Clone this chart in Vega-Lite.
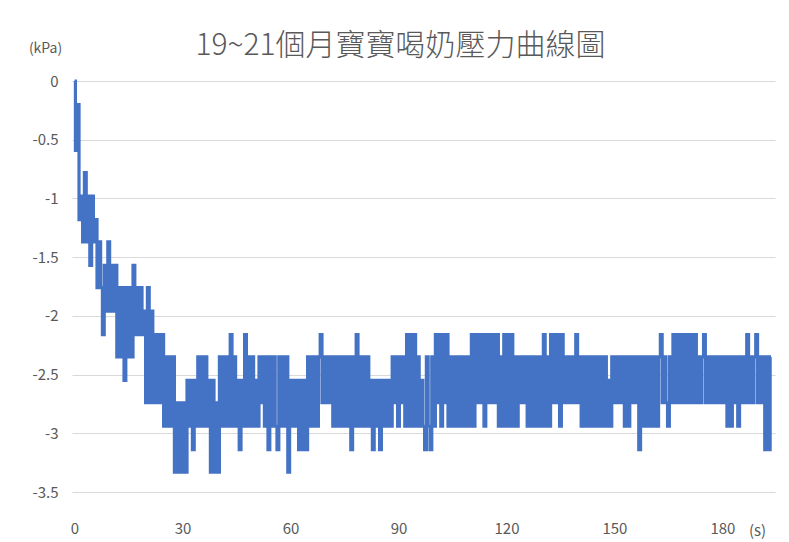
{
  "$schema": "https://vega.github.io/schema/vega-lite/v6.json",
  "width": 703,
  "height": 411,
  "autosize": {"type": "none"},
  "padding": {"left": 72, "top": 81, "right": 14, "bottom": 50},
  "background": "white",
  "title": {
    "text": "19~21個月寶寶喝奶壓力曲線圖",
    "font": "Noto Sans CJK TC",
    "fontSize": 30,
    "fontWeight": 300,
    "color": "#595959",
    "anchor": "middle",
    "dx": -23,
    "offset": -20
  },
  "data": {
    "values": [
      {"t":0,"p":0},{"t":0.5,"p":-0.59},{"t":1,"p":-0.2},{"t":1.5,"p":-1.18},{"t":2,"p":-0.98},{"t":2.5,"p":-1.37},{"t":3,"p":-0.78},{"t":3.5,"p":-1.37},{"t":4,"p":-0.98},{"t":4.5,"p":-1.57},
      {"t":5,"p":-0.98},{"t":5.5,"p":-1.37},{"t":6,"p":-1.18},{"t":6.5,"p":-1.76},{"t":7,"p":-1.37},{"t":7.5,"p":-1.76},{"t":8,"p":-2.16},{"t":8.5,"p":-1.57},{"t":9,"p":-1.96},{"t":9.5,"p":-1.37},
      {"t":10,"p":-1.96},{"t":10.5,"p":-1.57},{"t":11,"p":-1.96},{"t":11.5,"p":-1.57},{"t":12,"p":-2.35},{"t":12.5,"p":-1.76},{"t":13,"p":-2.35},{"t":13.5,"p":-1.76},{"t":14,"p":-2.55},{"t":14.5,"p":-1.76},
      {"t":15,"p":-2.35},{"t":15.5,"p":-1.76},{"t":16,"p":-2.35},{"t":16.5,"p":-1.57},{"t":17,"p":-2.16},{"t":17.5,"p":-1.76},{"t":18,"p":-2.16},{"t":18.5,"p":-1.76},{"t":19,"p":-2.16},{"t":19.5,"p":-1.96},
      {"t":20,"p":-2.74},{"t":20.5,"p":-1.76},{"t":21,"p":-2.74},{"t":21.5,"p":-1.96},{"t":22,"p":-2.74},{"t":22.5,"p":-2.16},{"t":23,"p":-2.74},{"t":23.5,"p":-2.16},{"t":24,"p":-2.74},{"t":24.5,"p":-2.16},
      {"t":25,"p":-2.94},{"t":25.5,"p":-2.35},{"t":26,"p":-2.94},{"t":26.5,"p":-2.35},{"t":27,"p":-2.94},{"t":27.5,"p":-2.35},{"t":28,"p":-3.33},{"t":28.5,"p":-2.74},{"t":29,"p":-3.33},{"t":29.5,"p":-2.74},
      {"t":30,"p":-3.33},{"t":30.5,"p":-2.74},{"t":31,"p":-3.33},{"t":31.5,"p":-2.55},{"t":32,"p":-2.94},{"t":32.5,"p":-2.55},{"t":33,"p":-3.14},{"t":33.5,"p":-2.55},{"t":34,"p":-2.94},{"t":34.5,"p":-2.35},
      {"t":35,"p":-2.94},{"t":35.5,"p":-2.35},{"t":36,"p":-2.94},{"t":36.5,"p":-2.35},{"t":37,"p":-2.94},{"t":37.5,"p":-2.55},{"t":38,"p":-3.33},{"t":38.5,"p":-2.55},{"t":39,"p":-3.33},{"t":39.5,"p":-2.74},
      {"t":40,"p":-3.33},{"t":40.5,"p":-2.35},{"t":41,"p":-2.94},{"t":41.5,"p":-2.35},{"t":42,"p":-2.94},{"t":42.5,"p":-2.35},{"t":43,"p":-2.94},{"t":43.5,"p":-2.16},{"t":44,"p":-2.94},{"t":44.5,"p":-2.35},
      {"t":45,"p":-2.94},{"t":45.5,"p":-2.55},{"t":46,"p":-3.14},{"t":46.5,"p":-2.55},{"t":47,"p":-2.94},{"t":47.5,"p":-2.16},{"t":48,"p":-2.94},{"t":48.5,"p":-2.35},{"t":49,"p":-2.94},{"t":49.5,"p":-2.35},
      {"t":50,"p":-2.94},{"t":50.5,"p":-2.55},{"t":51,"p":-2.94},{"t":51.5,"p":-2.35},{"t":52,"p":-2.74},{"t":52.5,"p":-2.35},{"t":53,"p":-2.94},{"t":53.5,"p":-2.35},{"t":54,"p":-3.14},{"t":54.5,"p":-2.35},
      {"t":55,"p":-2.94},{"t":55.5,"p":-2.35},{"t":56,"p":-2.94},{"t":56.5,"p":-3.14},{"t":57,"p":-2.35},{"t":57.5,"p":-2.94},{"t":58,"p":-2.35},{"t":58.5,"p":-2.94},{"t":59,"p":-2.35},{"t":59.5,"p":-3.33},
      {"t":60,"p":-2.55},{"t":60.5,"p":-2.94},{"t":61,"p":-2.55},{"t":61.5,"p":-2.94},{"t":62,"p":-2.55},{"t":62.5,"p":-3.14},{"t":63,"p":-2.55},{"t":63.5,"p":-3.14},{"t":64,"p":-2.55},{"t":64.5,"p":-3.14},
      {"t":65,"p":-2.35},{"t":65.5,"p":-2.94},{"t":66,"p":-2.35},{"t":66.5,"p":-2.94},{"t":67,"p":-2.35},{"t":67.5,"p":-2.94},{"t":68,"p":-2.35},{"t":68.5,"p":-2.16},{"t":69,"p":-2.74},{"t":69.5,"p":-2.35},
      {"t":70,"p":-2.74},{"t":70.5,"p":-2.35},{"t":71,"p":-2.74},{"t":71.5,"p":-2.35},{"t":72,"p":-2.94},{"t":72.5,"p":-2.35},{"t":73,"p":-2.94},{"t":73.5,"p":-2.35},{"t":74,"p":-2.94},{"t":74.5,"p":-2.35},
      {"t":75,"p":-2.94},{"t":75.5,"p":-2.35},{"t":76,"p":-2.94},{"t":76.5,"p":-2.35},{"t":77,"p":-3.14},{"t":77.5,"p":-2.35},{"t":78,"p":-2.94},{"t":78.5,"p":-2.16},{"t":79,"p":-2.94},{"t":79.5,"p":-2.35},
      {"t":80,"p":-2.94},{"t":80.5,"p":-2.35},{"t":81,"p":-2.94},{"t":81.5,"p":-2.35},{"t":82,"p":-2.94},{"t":82.5,"p":-2.55},{"t":83,"p":-3.14},{"t":83.5,"p":-2.55},{"t":84,"p":-2.94},{"t":84.5,"p":-2.55},
      {"t":85,"p":-3.14},{"t":85.5,"p":-2.55},{"t":86,"p":-2.94},{"t":86.5,"p":-2.55},{"t":87,"p":-2.94},{"t":87.5,"p":-2.55},{"t":88,"p":-2.94},{"t":88.5,"p":-2.35},{"t":89,"p":-2.74},{"t":89.5,"p":-2.35},
      {"t":90,"p":-2.94},{"t":90.5,"p":-2.35},{"t":91,"p":-2.74},{"t":91.5,"p":-2.35},{"t":92,"p":-2.94},{"t":92.5,"p":-2.16},{"t":93,"p":-2.94},{"t":93.5,"p":-2.16},{"t":94,"p":-2.94},{"t":94.5,"p":-2.16},
      {"t":95,"p":-2.94},{"t":95.5,"p":-2.35},{"t":96,"p":-2.94},{"t":96.5,"p":-2.55},{"t":97,"p":-2.94},{"t":97.5,"p":-3.14},{"t":98,"p":-2.35},{"t":98.5,"p":-2.94},{"t":99,"p":-3.14},{"t":99.5,"p":-2.35},
      {"t":100,"p":-2.94},{"t":100.5,"p":-2.16},{"t":101,"p":-2.74},{"t":101.5,"p":-2.16},{"t":102,"p":-2.94},{"t":102.5,"p":-2.16},{"t":103,"p":-2.74},{"t":103.5,"p":-2.16},{"t":104,"p":-2.94},{"t":104.5,"p":-2.35},
      {"t":105,"p":-2.94},{"t":105.5,"p":-2.35},{"t":106,"p":-2.94},{"t":106.5,"p":-2.35},{"t":107,"p":-2.94},{"t":107.5,"p":-2.35},{"t":108,"p":-2.94},{"t":108.5,"p":-2.35},{"t":109,"p":-2.94},{"t":109.5,"p":-2.35},
      {"t":110,"p":-2.94},{"t":110.5,"p":-2.16},{"t":111,"p":-2.94},{"t":111.5,"p":-2.16},{"t":112,"p":-2.74},{"t":112.5,"p":-2.16},{"t":113,"p":-2.74},{"t":113.5,"p":-2.16},{"t":114,"p":-2.94},{"t":114.5,"p":-2.16},
      {"t":115,"p":-2.74},{"t":115.5,"p":-2.16},{"t":116,"p":-2.74},{"t":116.5,"p":-2.16},{"t":117,"p":-2.74},{"t":117.5,"p":-2.16},{"t":118,"p":-2.94},{"t":118.5,"p":-2.35},{"t":119,"p":-2.94},{"t":119.5,"p":-2.16},
      {"t":120,"p":-2.94},{"t":120.5,"p":-2.16},{"t":121,"p":-2.94},{"t":121.5,"p":-2.16},{"t":122,"p":-2.94},{"t":122.5,"p":-2.35},{"t":123,"p":-2.94},{"t":123.5,"p":-2.35},{"t":124,"p":-2.74},{"t":124.5,"p":-2.35},
      {"t":125,"p":-2.74},{"t":125.5,"p":-2.35},{"t":126,"p":-2.94},{"t":126.5,"p":-2.35},{"t":127,"p":-2.94},{"t":127.5,"p":-2.35},{"t":128,"p":-2.94},{"t":128.5,"p":-2.35},{"t":129,"p":-2.94},{"t":129.5,"p":-2.35},
      {"t":130,"p":-2.94},{"t":130.5,"p":-2.16},{"t":131,"p":-2.94},{"t":131.5,"p":-2.35},{"t":132,"p":-2.94},{"t":132.5,"p":-2.16},{"t":133,"p":-2.74},{"t":133.5,"p":-2.16},{"t":134,"p":-2.74},{"t":134.5,"p":-2.16},
      {"t":135,"p":-2.94},{"t":135.5,"p":-2.16},{"t":136,"p":-2.74},{"t":136.5,"p":-2.35},{"t":137,"p":-2.74},{"t":137.5,"p":-2.35},{"t":138,"p":-2.74},{"t":138.5,"p":-2.35},{"t":139,"p":-2.74},{"t":139.5,"p":-2.16},
      {"t":140,"p":-2.74},{"t":140.5,"p":-2.35},{"t":141,"p":-2.94},{"t":141.5,"p":-2.35},{"t":142,"p":-2.94},{"t":142.5,"p":-2.35},{"t":143,"p":-2.94},{"t":143.5,"p":-2.35},{"t":144,"p":-2.94},{"t":144.5,"p":-2.35},
      {"t":145,"p":-2.94},{"t":145.5,"p":-2.35},{"t":146,"p":-2.94},{"t":146.5,"p":-2.35},{"t":147,"p":-2.94},{"t":147.5,"p":-2.35},{"t":148,"p":-2.94},{"t":148.5,"p":-2.55},{"t":149,"p":-2.94},{"t":149.5,"p":-2.35},
      {"t":150,"p":-2.74},{"t":150.5,"p":-2.35},{"t":151,"p":-2.74},{"t":151.5,"p":-2.35},{"t":152,"p":-2.74},{"t":152.5,"p":-2.35},{"t":153,"p":-2.94},{"t":153.5,"p":-2.35},{"t":154,"p":-2.94},{"t":154.5,"p":-2.35},
      {"t":155,"p":-2.74},{"t":155.5,"p":-2.35},{"t":156,"p":-2.74},{"t":156.5,"p":-2.35},{"t":157,"p":-3.14},{"t":157.5,"p":-2.35},{"t":158,"p":-2.94},{"t":158.5,"p":-2.35},{"t":159,"p":-2.94},{"t":159.5,"p":-2.35},
      {"t":160,"p":-2.94},{"t":160.5,"p":-2.35},{"t":161,"p":-2.94},{"t":161.5,"p":-2.35},{"t":162,"p":-2.94},{"t":162.5,"p":-2.35},{"t":163,"p":-2.16},{"t":163.5,"p":-2.74},{"t":164,"p":-2.35},{"t":164.5,"p":-2.74},
      {"t":165,"p":-2.94},{"t":165.5,"p":-2.35},{"t":166,"p":-2.74},{"t":166.5,"p":-2.16},{"t":167,"p":-2.74},{"t":167.5,"p":-2.16},{"t":168,"p":-2.74},{"t":168.5,"p":-2.16},{"t":169,"p":-2.74},{"t":169.5,"p":-2.16},
      {"t":170,"p":-2.74},{"t":170.5,"p":-2.16},{"t":171,"p":-2.74},{"t":171.5,"p":-2.16},{"t":172,"p":-2.74},{"t":172.5,"p":-2.16},{"t":173,"p":-2.74},{"t":173.5,"p":-2.35},{"t":174,"p":-2.74},{"t":174.5,"p":-2.35},
      {"t":175,"p":-2.16},{"t":175.5,"p":-2.74},{"t":176,"p":-2.35},{"t":176.5,"p":-2.74},{"t":177,"p":-2.35},{"t":177.5,"p":-2.74},{"t":178,"p":-2.35},{"t":178.5,"p":-2.74},{"t":179,"p":-2.35},{"t":179.5,"p":-2.74},
      {"t":180,"p":-2.35},{"t":180.5,"p":-2.74},{"t":181,"p":-2.35},{"t":181.5,"p":-2.94},{"t":182,"p":-2.35},{"t":182.5,"p":-2.94},{"t":183,"p":-2.35},{"t":183.5,"p":-2.74},{"t":184,"p":-2.35},{"t":184.5,"p":-2.94},
      {"t":185,"p":-2.35},{"t":185.5,"p":-2.74},{"t":186,"p":-2.35},{"t":186.5,"p":-2.74},{"t":187,"p":-2.16},{"t":187.5,"p":-2.74},{"t":188,"p":-2.35},{"t":188.5,"p":-2.74},{"t":189,"p":-2.35},{"t":189.5,"p":-2.16},
      {"t":190,"p":-2.74},{"t":190.5,"p":-2.35},{"t":191,"p":-2.74},{"t":191.5,"p":-2.35},{"t":192,"p":-3.14},{"t":192.5,"p":-2.35},{"t":193,"p":-3.14},{"t":193.5,"p":-2.35}
    ]
  },
  "mark": {"type": "line", "interpolate": "step", "color": "#4472C4", "strokeWidth": 3.2},
  "encoding": {
    "x": {
      "field": "t",
      "type": "quantitative",
      "scale": {"domain": [-0.7, 194.6], "nice": false, "zero": false},
      "axis": {
        "values": [0, 30, 60, 90, 120, 150, 180],
        "title": "(s)",
        "grid": false,
        "domain": false,
        "ticks": false,
        "tickSize": 0,
        "labelPadding": 29,
        "labelFont": "Noto Sans CJK TC",
        "labelFontSize": 15,
        "labelColor": "#595959",
        "labelExpr": "'' + datum.value",
        "titleFont": "Noto Sans CJK TC",
        "titleFontSize": 15,
        "titleFontWeight": "normal",
        "titleColor": "#595959",
        "titleX": 685,
        "titleY": 38,
        "titleAlign": "center",
        "titleBaseline": "middle"
      }
    },
    "y": {
      "field": "p",
      "type": "quantitative",
      "scale": {"domain": [-3.5, 0], "nice": false},
      "axis": {
        "values": [0, -0.5, -1, -1.5, -2, -2.5, -3, -3.5],
        "title": "(kPa)",
        "titleAngle": 0,
        "titleX": -27,
        "titleY": -33,
        "titleAlign": "center",
        "titleBaseline": "middle",
        "titleFont": "Noto Sans CJK TC",
        "titleFontSize": 14,
        "titleFontWeight": "normal",
        "titleColor": "#595959",
        "grid": true,
        "gridColor": "#d9d9d9",
        "gridWidth": 1,
        "domain": false,
        "ticks": false,
        "tickSize": 0,
        "labelPadding": 14,
        "labelFont": "Noto Sans CJK TC",
        "labelFontSize": 15,
        "labelColor": "#595959",
        "labelExpr": "'' + datum.value"
      }
    }
  },
  "config": {"view": {"stroke": null}}
}
